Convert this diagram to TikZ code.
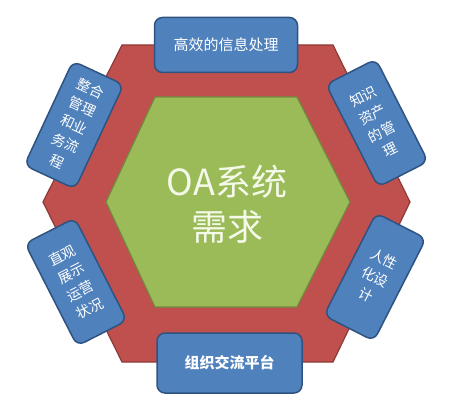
\documentclass[tikz,border=0pt]{standalone}
\usepackage{fontspec}
\newfontfamily\cjk{Noto Sans CJK SC}
\definecolor{redfill}{HTML}{C0504D}
\definecolor{redline}{HTML}{8C3A38}
\definecolor{greenfill}{HTML}{9BBB59}
\definecolor{greenline}{HTML}{71893F}
\definecolor{bluefill}{HTML}{4F81BD}
\definecolor{blueline}{HTML}{2F5380}
\definecolor{centertext}{HTML}{F4F9EA}
\tikzset{
  redhex/.style={fill=redfill, draw=redline, line width=1.2pt, line join=miter},
  greenhex/.style={fill=greenfill, draw=greenline, line width=1.2pt, line join=miter},
  infobox/.style={fill=bluefill, draw=blueline, line width=1.5pt, rounded corners=8pt,
    text=white, align=center, inner sep=0pt},
  sidebox/.style={infobox, minimum width=56pt, minimum height=115pt,
    font=\cjk\fontsize{14}{20}\selectfont},
  flatbox/.style={infobox, font=\cjk\fontsize{15}{18}\selectfont},
}
\begin{document}
\begin{tikzpicture}[x=1pt,y=-1pt]
\useasboundingbox[fill=white] (0,0) rectangle (461,417);
% red outer hexagon
\draw[redhex] (122,45) -- (333,45) -- (410,202) -- (333,362) -- (122,362) -- (43,202) -- cycle;
% green inner hexagon
\draw[greenhex] (155,97) -- (297,97) -- (350,202) -- (297,307) -- (155,307) -- (106,202) -- cycle;
% centre text
\node[text=centertext, font=\cjk\fontsize{36}{45}\selectfont, align=center] (core) at (227,204) {OA系统\\需求};
% boxes
\node[flatbox, minimum width=143pt, minimum height=55pt] (top) at (226,45) {高效的信息处理};
\node[flatbox, minimum width=145pt, minimum height=60pt, font=\cjk\bfseries\fontsize{15}{18}\selectfont] (bottom) at (229.5,363) {组织交流平台};
\node[sidebox, rotate=-25] (ul) at (74,125) {整合\\管理\\和业\\务流\\程};
\node[sidebox, rotate=27] (ur) at (377,123) {知识\\资产\\的管\\理};
\node[sidebox, rotate=27] (ll) at (76,282) {直观\\展示\\运营\\状况};
\node[sidebox, rotate=-27] (lr) at (375,277) {人性\\化设\\计};
\end{tikzpicture}
\end{document}
